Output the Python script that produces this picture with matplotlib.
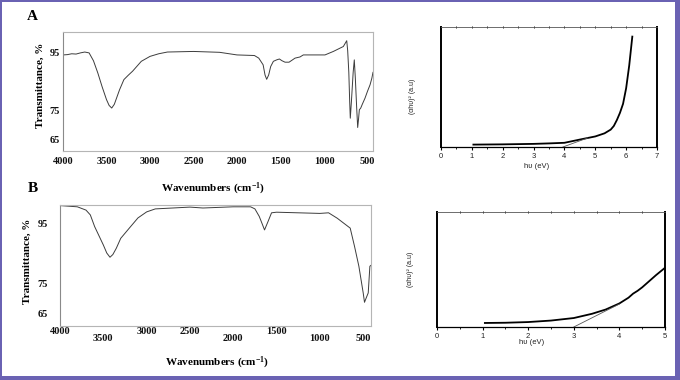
import matplotlib
matplotlib.use('Agg')
from matplotlib import pyplot as plt
from matplotlib.patches import Rectangle
from matplotlib.ticker import MultipleLocator

plt.rcParams['font.family'] = ['Liberation Serif', 'DejaVu Serif']
plt.rcParams['font.weight'] = 'bold'
plt.rcParams['axes.labelweight'] = 'bold'
plt.rcParams['mathtext.fontset'] = 'custom'
plt.rcParams['mathtext.rm'] = 'Liberation Serif:bold'
plt.rcParams['mathtext.it'] = 'Liberation Serif:bold'
plt.rcParams['mathtext.bf'] = 'Liberation Serif:bold'

# FTIR spectrum, sample A
wn_a = [4000, 3950, 3900, 3850, 3800, 3750, 3700, 3650, 3600, 3550, 3500, 3470,
        3440, 3410, 3380, 3350, 3300, 3250, 3200, 3100, 3000, 2900, 2800, 2500,
        2200, 2000, 1800, 1750, 1700, 1678, 1659, 1636, 1613, 1582, 1544, 1513,
        1483, 1448, 1402, 1372, 1333, 1276, 1238, 989, 893, 778, 739, 728, 715,
        705, 698, 685, 665, 652, 640, 625, 613, 603, 594, 578, 560, 529, 500,
        471, 450, 437]
tr_a = [94.0, 94.1, 94.4, 94.3, 94.7, 95.0, 94.7, 92.0, 87.8, 83.0, 78.6, 76.6,
        75.7, 77.0, 79.5, 82.0, 85.5, 87.0, 88.4, 91.8, 93.5, 94.4, 95.0, 95.2,
        94.9, 94.0, 93.8, 92.9, 90.6, 87.1, 85.6, 87.1, 90.0, 91.8, 92.3, 92.6,
        92.0, 91.5, 91.5, 92.1, 92.9, 93.3, 94.0, 94.0, 95.2, 96.9, 98.9, 95.5,
        88.0, 78.0, 72.2, 78.0, 88.0, 92.3, 86.0, 76.0, 69.0, 72.0, 75.1, 75.7,
        77.0, 79.1, 81.5, 83.7, 86.0, 88.0]

# FTIR spectrum, sample B
wn_b = [4000, 3800, 3700, 3650, 3600, 3500, 3460, 3423, 3390, 3350, 3299, 3200,
        3100, 3000, 2900, 2500, 2350, 2000, 1800, 1750, 1700, 1670, 1639, 1600,
        1558, 1501, 1000, 900, 800, 700, 650, 600, 550, 500, 485, 462, 442, 423,
        410]
tr_b = [100.8, 100.4, 99.3, 97.7, 93.8, 87.7, 85.0, 83.6, 84.5, 86.6, 89.9, 93.3,
        96.7, 98.7, 99.7, 100.3, 100.0, 100.4, 100.4, 99.7, 97.2, 95.0, 92.7, 95.4,
        98.4, 98.6, 98.2, 98.4, 96.6, 94.4, 93.3, 87.2, 80.6, 71.7, 68.6, 70.3,
        71.7, 80.6, 80.9]

ir_xticks = [4000, 3500, 3000, 2500, 2000, 1500, 1000, 500]
ir_yticks = [95, 75, 65]

# Tauc plots
ev_a = [1.05, 2.0, 3.0, 3.5, 4.0, 4.5, 5.0, 5.3, 5.5, 5.6, 5.7, 5.8, 5.9, 6.0, 6.1, 6.2]
ab_a = [0.02, 0.022, 0.026, 0.03, 0.035, 0.062, 0.088, 0.114, 0.145, 0.175, 0.225,
        0.285, 0.36, 0.49, 0.68, 0.92]
fit_a_x = [3.95, 4.75]
fit_a_y = [0.0, 0.075]

ev_b = [1.05, 1.5, 2.0, 2.5, 3.0, 3.4, 3.7, 4.0, 4.2, 4.3, 4.4, 4.5, 4.6, 4.8, 5.0]
ab_b = [0.035, 0.037, 0.043, 0.056, 0.078, 0.115, 0.152, 0.205, 0.255, 0.29, 0.315,
        0.345, 0.38, 0.45, 0.515]
fit_b_x = [3.0, 4.0]
fit_b_y = [0.0, 0.2]

W, H = 680, 380
fig = plt.figure(figsize=(W / 100, H / 100), dpi=100)
fig.patch.set_facecolor('white')


def box(l, t, r, b):
    return [l / W, 1 - b / H, (r - l) / W, (b - t) / H]


def ir_panel(rect, wn, tr, xlim, ylim, ypad, xpad, xlab_pos, ylab_pos):
    ax = fig.add_axes(rect)
    ax.plot(wn, tr, color='#3c3c3c', lw=0.7)
    ax.set_xlim(*xlim)
    ax.set_ylim(*ylim)
    ax.set_xticks(ir_xticks)
    ax.set_yticks(ir_yticks)
    ax.tick_params(length=0, labelsize=7.5, colors='#111111')
    ax.tick_params(axis='y', pad=ypad)
    ax.tick_params(axis='x', pad=xpad)
    for s in ax.spines.values():
        s.set_color('#b5b5b5')
        s.set_linewidth(0.8)
    ax.spines['left'].set_color('#8a8a8a')
    ax.set_xlabel('Wavenumbers (cm$^{-1}$)', fontsize=8)
    ax.set_ylabel('Transmittance, %', fontsize=8)
    ax.xaxis.set_label_coords(*xlab_pos)
    ax.yaxis.set_label_coords(*ylab_pos)
    return ax


def tauc_panel(rect, ev, ab, fx, fy, xmax, xlab_pos, ylab_pos):
    ax = fig.add_axes(rect)
    ax.plot(ev, ab, color='black', lw=1.3)
    ax.plot(fx, fy, color='#555555', lw=0.6)
    ax.set_xlim(0, xmax)
    ax.set_ylim(0, 1)
    ax.set_yticks([])
    ax.xaxis.set_major_locator(MultipleLocator(1))
    ax.xaxis.set_minor_locator(MultipleLocator(0.5))
    ax.tick_params(axis='x', which='major', direction='out', length=2.5, width=0.8,
                   pad=1.5, labelsize=5.5, labelcolor='#222222')
    ax.tick_params(axis='x', which='minor', direction='out', length=1.5, width=0.6)
    for lab in ax.get_xticklabels():
        lab.set_family('Liberation Sans')
        lab.set_fontweight('normal')
    top = ax.secondary_xaxis('top')
    top.xaxis.set_major_locator(MultipleLocator(0.5))
    top.tick_params(direction='inout', length=2, width=0.6, labeltop=False)
    top.spines['top'].set_visible(False)
    ax.spines['left'].set_linewidth(1.4)
    ax.spines['right'].set_linewidth(1.4)
    ax.spines['bottom'].set_linewidth(0.9)
    ax.spines['top'].set_linewidth(0.6)
    ax.spines['top'].set_color('#555555')
    ax.set_xlabel('h\u03c5 (eV)', fontsize=5.5, family='Liberation Sans',
                  fontweight='normal', color='#222222')
    ax.set_ylabel('(\u03b1h\u03c5)\u00b2 (a.u)', fontsize=5, family='Liberation Sans',
                  fontweight='normal', color='#222222')
    ax.xaxis.set_label_coords(*xlab_pos)
    ax.yaxis.set_label_coords(*ylab_pos)
    return ax


ax1 = ir_panel(box(63, 32, 373, 151), wn_a, tr_a, (4000, 437), (60.9, 101.9),
               2, 4, (0.484, -0.255), (-0.058, 0.555))
ax2 = ir_panel(box(60, 205, 371, 326), wn_b, tr_b, (4000, 410), (60.7, 101.0),
               9, 0.5, (0.505, -0.235), (-0.09, 0.53))
# staggered wavenumber labels in the lower spectrum
for i in [1, 4, 6, 7]:
    ax2.get_xticklabels()[i].set_y(-0.058)

tauc_panel(box(441, 27, 657, 147), ev_a, ab_a, fit_a_x, fit_a_y, 7,
           (0.444, -0.135), (-0.116, 0.42))
tauc_panel(box(437, 212, 665, 327), ev_b, ab_b, fit_b_x, fit_b_y, 5,
           (0.415, -0.10), (-0.099, 0.50))

fig.text(32 / W, 1 - 17 / H, 'A', fontsize=11, ha='center', va='center')
fig.text(33 / W, 1 - 189 / H, 'B', fontsize=11, ha='center', va='center')

# purple frame around the figure
frame = '#6a62b3'
for x0, y0, w, h in [(0, 378, 680, 2), (0, 0, 1.5, 380), (675, 0, 5, 380), (0, 0, 680, 4)]:
    fig.add_artist(Rectangle((x0 / W, y0 / H), w / W, h / H, transform=fig.transFigure,
                             facecolor=frame, edgecolor='none'))

fig.savefig('out.png', dpi=100)
